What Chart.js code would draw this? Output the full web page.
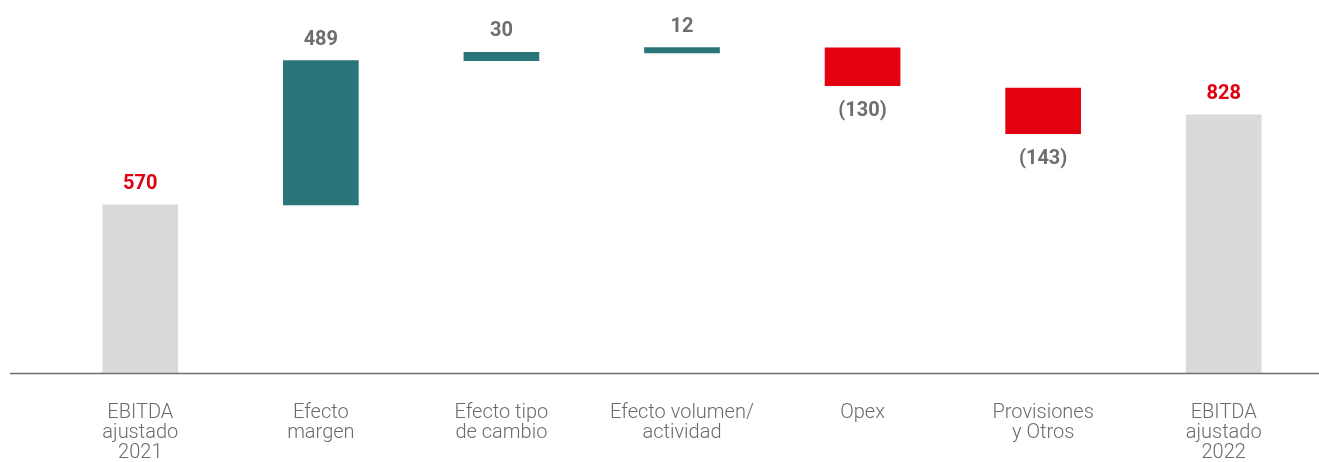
<!DOCTYPE html>
<html>
<head>
<meta charset="utf-8">
<script src="https://cdn.jsdelivr.net/npm/chart.js@4/dist/chart.umd.min.js"></script>
<style>
  html, body { margin: 0; padding: 0; background: #ffffff; }
  #wrap { width: 1319px; height: 462px; position: relative; }
</style>
</head>
<body>
<div id="wrap"><canvas id="c"></canvas></div>
<script>
// ---- data ----
const categories = [
  ["EBITDA", "ajustado", "2021"],
  ["Efecto", "margen"],
  ["Efecto tipo", "de cambio"],
  ["Efecto volumen/", "actividad"],
  ["Opex"],
  ["Provisiones", "y Otros"],
  ["EBITDA", "ajustado", "2022"]
];
const values = [570, 489, 30, 12, -130, -143, 828];
const valueLabels = ["570", "489", "30", "12", "(130)", "(143)", "828"];
const isTotal = [true, false, false, false, false, false, true];
// floating bar extents as drawn in the picture
const barLow  = [0, 570, 1059, 1085, 974, 811, 0];
const barHigh = [570, 1059, 1087, 1103, 1102, 966, 875];

// ---- styles ----
const TOTAL_COLOR = '#d9dad9';
const UP_COLOR = '#2a7579';
const DOWN_COLOR = '#e3000f';
const LABEL_GRAY = '#6d6e6e';
const LABEL_RED = '#e3000f';

const barColors = values.map((v, i) => isTotal[i] ? TOTAL_COLOR : (v >= 0 ? UP_COLOR : DOWN_COLOR));
const floating = barLow.map((lo, i) => [lo, barHigh[i]]);

const valueLabelPlugin = {
  id: 'valueLabels',
  afterDatasetsDraw(chart) {
    const ctx = chart.ctx;
    const meta = chart.getDatasetMeta(0);
    ctx.save();
    ctx.font = 'bold 20px Roboto, "Liberation Sans", sans-serif';
    ctx.textAlign = 'center';
    ctx.textBaseline = 'alphabetic';
    meta.data.forEach((bar, i) => {
      const props = bar.getProps(['x', 'y', 'base'], true);
      const top = Math.min(props.y, props.base);
      const bottom = Math.max(props.y, props.base);
      ctx.fillStyle = isTotal[i] ? LABEL_RED : LABEL_GRAY;
      if (values[i] >= 0) {
        ctx.fillText(valueLabels[i], props.x, top - 16);
      } else {
        ctx.fillText(valueLabels[i], props.x, bottom + 30);
      }
    });
    ctx.restore();
  }
};

const axisLinePlugin = {
  id: 'axisLine',
  afterDatasetsDraw(chart) {
    const ctx = chart.ctx;
    const y = chart.scales.y.getPixelForValue(0);
    ctx.save();
    ctx.strokeStyle = '#6f6f6f';
    ctx.lineWidth = 1.5;
    ctx.beginPath();
    ctx.moveTo(10, y + 0.5);
    ctx.lineTo(1319, y + 0.5);
    ctx.stroke();
    ctx.restore();
  }
};

new Chart(document.getElementById('c'), {
  type: 'bar',
  data: {
    labels: categories,
    datasets: [{
      data: floating,
      backgroundColor: barColors,
      borderWidth: 0,
      barThickness: 75
    }]
  },
  options: {
    responsive: true,
    maintainAspectRatio: false,
    animation: false,
    layout: { padding: { left: 50, right: 5, top: 19, bottom: 0 } },
    plugins: {
      legend: { display: false },
      tooltip: { enabled: false }
    },
    scales: {
      x: {
        grid: { display: false, drawTicks: false },
        border: { display: false },
        ticks: {
          color: '#6b6b6b',
          font: { family: 'Roboto, "Liberation Sans", sans-serif', size: 20, weight: '300', lineHeight: 1.0 },
          padding: 30,
          maxRotation: 0,
          autoSkip: false
        },
        afterFit(scale) { scale.height = 89; }
      },
      y: {
        display: false,
        min: 0,
        max: 1200
      }
    }
  },
  plugins: [valueLabelPlugin, axisLinePlugin]
});
</script>
</body>
</html>
